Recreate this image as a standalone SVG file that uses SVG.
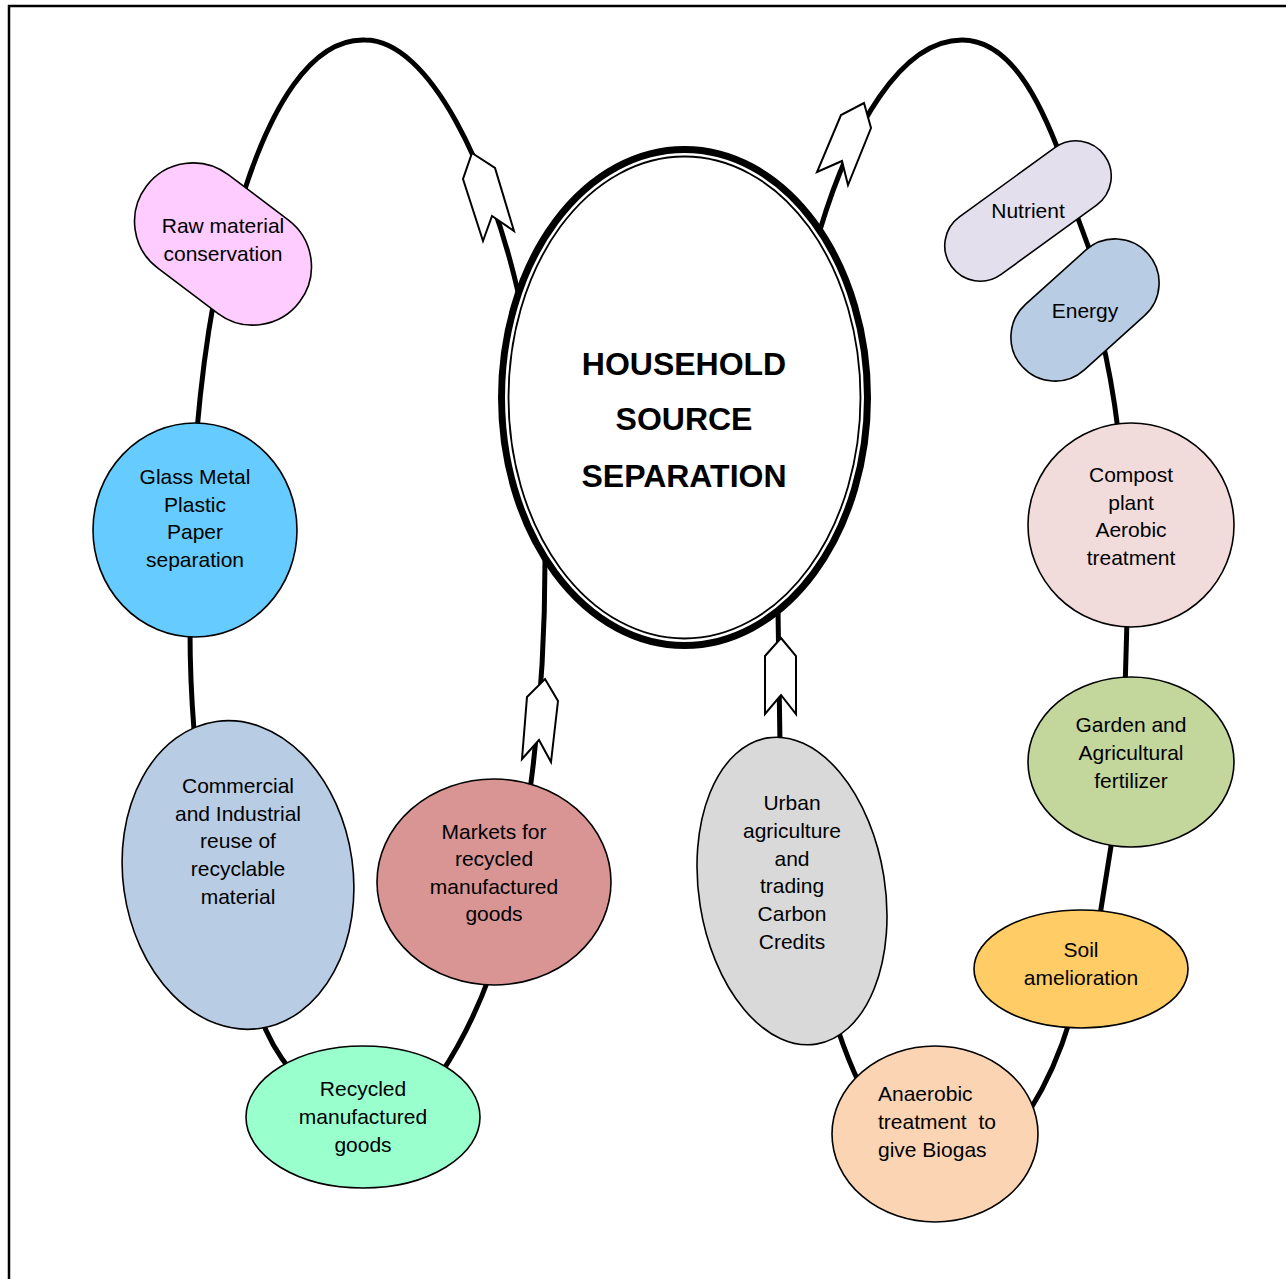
<svg xmlns="http://www.w3.org/2000/svg" width="1286" height="1279" viewBox="0 0 1286 1279">
<style>
.c{fill:none;stroke:#000;stroke-width:5;stroke-linecap:butt}
.n{stroke:#000;stroke-width:1.6}
.t{font-family:"Liberation Sans",Arial,sans-serif;font-size:21px;fill:#000;text-anchor:middle}
.h{font-family:"Liberation Sans",Arial,sans-serif;font-size:32px;font-weight:bold;fill:#000;text-anchor:middle}
.a{fill:#fff;stroke:#000;stroke-width:2;stroke-linejoin:miter}
</style>
<rect x="0" y="0" width="1286" height="1279" fill="#fff"/>
<path d="M9,1279 V6 H1286" fill="none" stroke="#000" stroke-width="2.5"/>
<g id="connectors">
<path class="c" d="M518,292 C490,170 430,40 365,40 C310,38 270,110 243,195"/>
<path class="c" d="M214,300 Q203,360 197,430"/>
<path class="c" d="M190,630 Q190,680 194,730"/>
<path class="c" d="M260,1015 Q270,1045 292,1072"/>
<path class="c" d="M440,1075 Q470,1030 490,975"/>
<path class="c" d="M530,790 Q545,680 545,560"/>
<path class="c" d="M820,230 C850,130 900,40 962,40 C1010,40 1040,100 1062,160"/>
<path class="c" d="M1073,205 L1097,270"/>
<path class="c" d="M1100,330 Q1112,380 1118,430"/>
<path class="c" d="M1127,620 L1125,690"/>
<path class="c" d="M1112,840 L1100,915"/>
<path class="c" d="M1070,1020 Q1055,1070 1030,1110"/>
<path class="c" d="M860,1085 Q848,1060 838,1030"/>
<path class="c" d="M780,745 L778,610"/>
<polygon class="a" points="472,153 495,168 514,231 492,216 483,241 463,179"/>
<polygon class="a" points="864,103 871,128 848,185 842,161 817,172 841,115"/>
<polygon class="a" points="545,679 558,701 551,762 539,740 522,759 527,697"/>
<polygon class="a" points="781,638 796,656 796,714 781,695 765,714 765,656"/>
</g>
<g id="center">
<ellipse cx="684.5" cy="397.5" rx="183" ry="248" fill="#fff" stroke="#000" stroke-width="7"/>
<ellipse cx="684.5" cy="397.5" rx="176" ry="241" fill="none" stroke="#000" stroke-width="1.8"/>
<text class="h" x="684" y="375">HOUSEHOLD</text>
<text class="h" x="684" y="430">SOURCE</text>
<text class="h" x="684" y="487">SEPARATION</text>
</g>
<g id="raw">
<rect class="n" x="-96" y="-58.5" width="192" height="117" rx="58.5" fill="#FFCCFF" transform="translate(223,244) rotate(37)"/>
<text class="t" x="223" y="233">Raw material</text>
<text class="t" x="223" y="261">conservation</text>
</g>
<g id="glass">
<ellipse class="n" cx="195" cy="530" rx="102" ry="107" fill="#66CCFF"/>
<text class="t" x="195" y="484">Glass Metal</text>
<text class="t" x="195" y="512">Plastic</text>
<text class="t" x="195" y="539">Paper</text>
<text class="t" x="195" y="567">separation</text>
</g>
<g id="commercial">
<ellipse class="n" cx="238" cy="875" rx="115" ry="155" fill="#B8CCE4" transform="rotate(-8 238 875)"/>
<text class="t" x="238" y="793">Commercial</text>
<text class="t" x="238" y="821">and Industrial</text>
<text class="t" x="238" y="848">reuse of</text>
<text class="t" x="238" y="876">recyclable</text>
<text class="t" x="238" y="904">material</text>
</g>
<g id="recycled">
<ellipse class="n" cx="363" cy="1117" rx="117" ry="71" fill="#99FFCC"/>
<text class="t" x="363" y="1096">Recycled</text>
<text class="t" x="363" y="1124">manufactured</text>
<text class="t" x="363" y="1152">goods</text>
</g>
<g id="markets">
<ellipse class="n" cx="494" cy="882" rx="117" ry="103" fill="#D99594"/>
<text class="t" x="494" y="839">Markets for</text>
<text class="t" x="494" y="866">recycled</text>
<text class="t" x="494" y="894">manufactured</text>
<text class="t" x="494" y="921">goods</text>
</g>
<g id="urban">
<ellipse class="n" cx="792" cy="891" rx="93" ry="155" fill="#D9D9D9" transform="rotate(-9 792 891)"/>
<text class="t" x="792" y="810">Urban</text>
<text class="t" x="792" y="838">agriculture</text>
<text class="t" x="792" y="866">and</text>
<text class="t" x="792" y="893">trading</text>
<text class="t" x="792" y="921">Carbon</text>
<text class="t" x="792" y="949">Credits</text>
</g>
<g id="anaerobic">
<ellipse class="n" cx="935" cy="1134" rx="103" ry="88" fill="#FBD4B4"/>
<text class="t" x="878" y="1101" style="text-anchor:start">Anaerobic</text>
<text class="t" x="878" y="1129" style="text-anchor:start;white-space:pre">treatment  to</text>
<text class="t" x="878" y="1157" style="text-anchor:start">give Biogas</text>
</g>
<g id="soil">
<ellipse class="n" cx="1081" cy="969" rx="107" ry="59" fill="#FFCC66"/>
<text class="t" x="1081" y="957">Soil</text>
<text class="t" x="1081" y="985">amelioration</text>
</g>
<g id="garden">
<ellipse class="n" cx="1131" cy="762" rx="103" ry="85" fill="#C3D69B"/>
<text class="t" x="1131" y="732">Garden and</text>
<text class="t" x="1131" y="760">Agricultural</text>
<text class="t" x="1131" y="788">fertilizer</text>
</g>
<g id="compost">
<ellipse class="n" cx="1131" cy="525" rx="103" ry="102" fill="#F2DCDB"/>
<text class="t" x="1131" y="482">Compost</text>
<text class="t" x="1131" y="510">plant</text>
<text class="t" x="1131" y="537">Aerobic</text>
<text class="t" x="1131" y="565">treatment</text>
</g>
<g id="nutrient">
<rect class="n" x="-94.5" y="-35.5" width="189" height="71" rx="35.5" fill="#E4DFEC" transform="translate(1028,211) rotate(-36)"/>
<text class="t" x="1028" y="218">Nutrient</text>
</g>
<g id="energy">
<rect class="n" x="-84.5" y="-44" width="169" height="88" rx="44" fill="#B8CCE4" transform="translate(1085,310) rotate(-42)"/>
<text class="t" x="1085" y="318">Energy</text>
</g>
</svg>
